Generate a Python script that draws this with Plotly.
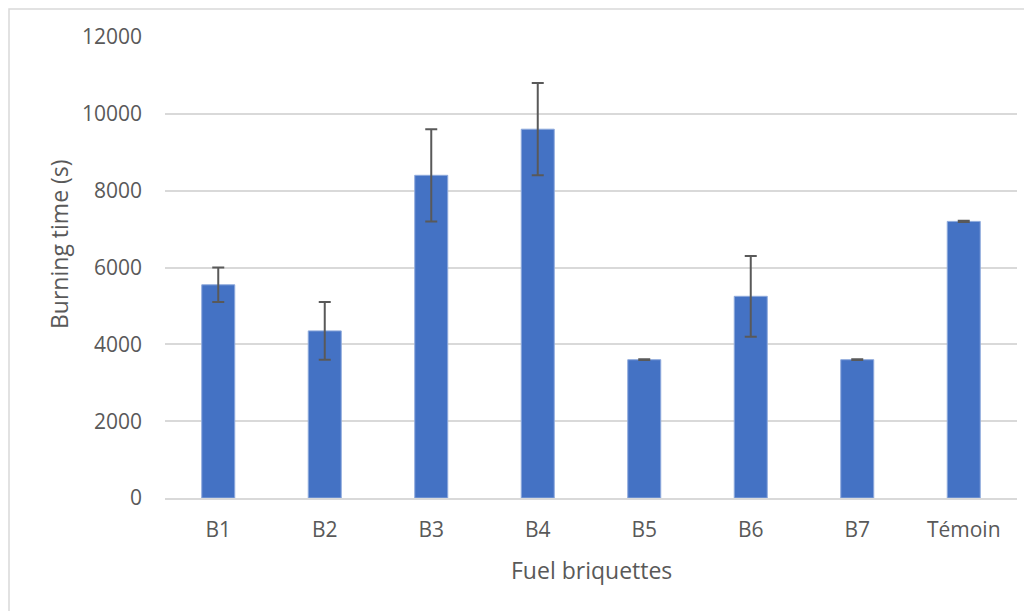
import plotly.graph_objects as go

categories = ["B1", "B2", "B3", "B4", "B5", "B6", "B7", "Témoin"]
burning_time = [5550, 4350, 8400, 9600, 3600, 5250, 3600, 7200]
error = [450, 750, 1200, 1200, 10, 1050, 10, 15]

# plot area in figure pixels (page body adds an 8px margin)
W, H = 1024, 603
L, R, T, B = 157, 15, 29, 113
PW, PH = W - L - R, H - T - B

fig = go.Figure()
fig.add_trace(go.Bar(
    x=categories, y=burning_time,
    marker=dict(color="#4472C4", line=dict(color="#8FAADC", width=1)),
    error_y=dict(type="data", array=error, visible=True, color="#595959", thickness=2, width=6),
))

font_family = "Open Sans, Liberation Sans, sans-serif"
grey = "#595959"
fig.update_layout(
    width=W, height=H,
    margin=dict(l=L, r=R, t=T, b=B),
    paper_bgcolor="white", plot_bgcolor="white",
    bargap=0.69,
    showlegend=False,
    font=dict(family=font_family, color=grey, size=21),
    xaxis=dict(
        tickfont=dict(size=21, color=grey),
        showgrid=False, showline=True, linecolor="#D9D9D9", linewidth=1.5,
        ticks="", ticklabelstandoff=12,
    ),
    yaxis=dict(
        tickfont=dict(size=21, color=grey),
        range=[0, 12000], dtick=2000, tickformat="d",
        showgrid=True, gridcolor="#D9D9D9", gridwidth=1.5,
        zeroline=False, showline=False, ticks="", ticklabelstandoff=22,
    ),
    annotations=[
        dict(text="Fuel briquettes", xref="paper", yref="paper", x=0.5, y=0,
             yshift=-72, xanchor="center", yanchor="middle", showarrow=False,
             font=dict(size=23, color=grey)),
        dict(text="Burning time (s)", xref="paper", yref="paper",
             x=(51 - L) / PW, y=(H - B - 236) / PH, textangle=-90,
             xanchor="center", yanchor="middle", showarrow=False,
             font=dict(size=23, color=grey)),
    ],
    shapes=[dict(
        type="rect", xref="paper", yref="paper",
        x0=-(L - 1) / PW, x1=1 + (R + 30) / PW, y0=-(B + 30) / PH, y1=1 + (T - 1) / PH,
        line=dict(color="#D9D9D9", width=1.5), fillcolor="rgba(0,0,0,0)", layer="below",
    )],
)

fig.write_html("out.html")
